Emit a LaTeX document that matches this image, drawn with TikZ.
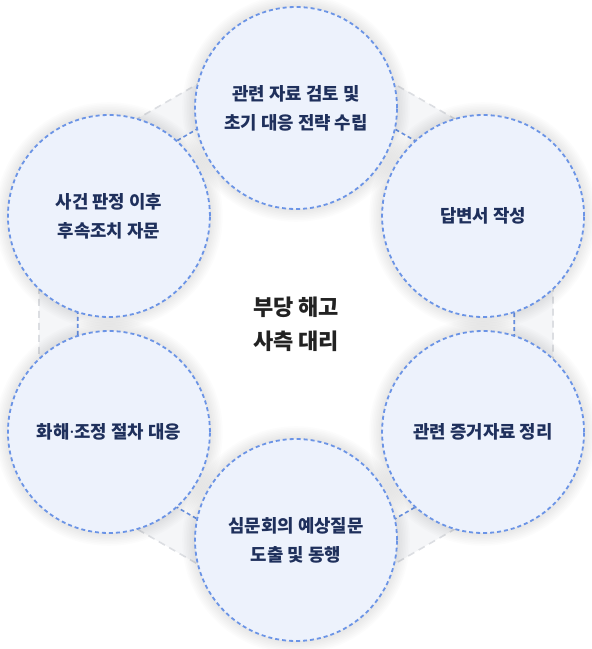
\documentclass[tikz,border=0pt]{standalone}
\usepackage{fontspec}
\setmainfont{Noto Sans CJK KR}
\newfontfamily\latinfont{Noto Sans}
\usetikzlibrary{calc}
\definecolor{stagefill}{HTML}{EDF2FC}
\definecolor{stageline}{HTML}{6B94E6}
\definecolor{stagetext}{HTML}{1F305C}
\definecolor{ringfill}{HTML}{F5F6F8}
\definecolor{ringline}{HTML}{DCDEE2}
\definecolor{hubtext}{HTML}{222222}
\tikzset{%
  stage/.style={circle, draw=stageline, fill=stagefill, line width=1.8pt,
    dash pattern=on 4pt off 3pt, minimum size=202pt, inner sep=0pt,
    align=center, text=stagetext, font=\fontsize{17.8}{29}\selectfont\bfseries},% one step circle
  hub/.style={align=center, text=hubtext, font=\fontsize{22}{34}\selectfont\bfseries},% centre text
  ring/.style={fill=ringfill, draw=ringline, line width=1.6pt, dash pattern=on 7pt off 5pt},% outer band
  band/.style={fill=white, draw=stageline, line width=1.6pt, dash pattern=on 4pt off 3pt}% inner band edge
}
\newcommand*{\halo}[1]{%
  \foreach \i in {1,...,8} {\fill[black, opacity=0.012] (#1) circle (101pt+\i*1.6pt);}}

\begin{document}
\begin{tikzpicture}[x=1pt, y=1pt]
\useasboundingbox (0,0) rectangle (592,649);
\coordinate (hubc) at (296,325);
\def\orbit{216}

% hexagonal band behind the circles
\draw[ring] ($(hubc)+(90:296.8)$) -- ($(hubc)+(150:296.8)$) -- ($(hubc)+(210:296.8)$)
  -- ($(hubc)+(270:296.8)$) -- ($(hubc)+(330:296.8)$) -- ($(hubc)+(30:296.8)$) -- cycle;
\draw[band] ($(hubc)+(90:252)$) -- ($(hubc)+(150:252)$) -- ($(hubc)+(210:252)$)
  -- ($(hubc)+(270:252)$) -- ($(hubc)+(330:252)$) -- ($(hubc)+(30:252)$) -- cycle;

\coordinate (c-review)   at ($(hubc)+(90:\orbit)$);
\coordinate (c-answer)   at ($(hubc)+(30:\orbit)$);
\coordinate (c-evidence) at ($(hubc)+(-30:\orbit)$);
\coordinate (c-hearing)  at ($(hubc)+(-90:\orbit)$);
\coordinate (c-settle)   at ($(hubc)+(-150:\orbit)$);
\coordinate (c-follow)   at ($(hubc)+(150:\orbit)$);

\foreach \c in {review,answer,evidence,hearing,settle,follow} {\halo{c-\c}}

\node[stage] (review)   at (c-review)   {관련 자료 검토 및\\초기 대응 전략 수립};
\node[stage] (answer)   at (c-answer)   {답변서 작성};
\node[stage] (evidence) at (c-evidence) {관련 증거자료 정리};
\node[stage] (hearing)  at (c-hearing)  {심문회의 예상질문\\도출 및 동행};
\node[stage] (settle)   at (c-settle)   {화해{\latinfont ·}조정 절차 대응};
\node[stage] (follow)   at (c-follow)   {사건 판정 이후\\후속조치 자문};

\node[hub] (hub) at (hubc) {부당 해고\\사측 대리};

\end{tikzpicture}
\end{document}
